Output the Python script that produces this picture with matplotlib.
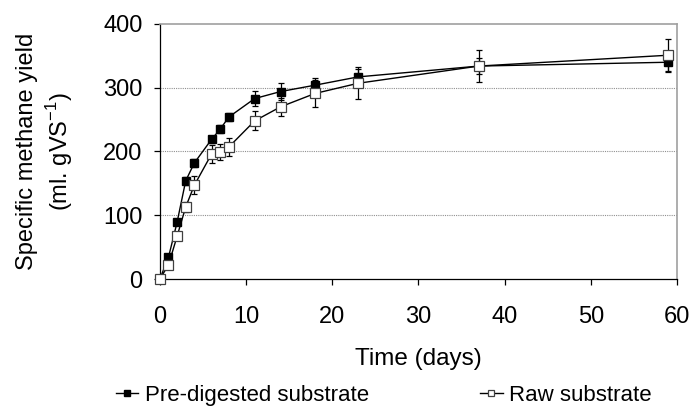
import matplotlib.pyplot as plt

plt.rcParams['font.family'] = ['Liberation Sans', 'DejaVu Sans']

# data
days = [0, 1, 2, 3, 4, 6, 7, 8, 11, 14, 18, 23, 37, 59]
pre_digested = [0, 34, 89, 154, 182, 219, 235, 254, 283, 294, 304, 317, 334, 340]
pre_err = [2, 4, 5, 6, 6, 6, 6, 6, 12, 14, 11, 12, 12, 15]
raw = [0, 22, 67, 113, 147, 196, 199, 207, 248, 270, 291, 307, 334, 351]
raw_err = [2, 4, 6, 8, 14, 14, 13, 14, 15, 14, 21, 25, 25, 25]

fig = plt.figure(figsize=(6.95, 4.15), dpi=100)
ax = fig.add_axes([0.230, 0.3277, 0.744, 0.6145])

for y in [100, 200, 300]:
    ax.axhline(y, color='#909090', lw=0.8, ls=(0, (1, 1)), zorder=0)

ax.errorbar(days, raw, yerr=raw_err, fmt='none', ecolor='black',
            elinewidth=0.9, capsize=2.5, capthick=0.9, clip_on=False, zorder=2)
ax.errorbar(days, pre_digested, yerr=pre_err, fmt='none', ecolor='black',
            elinewidth=0.9, capsize=2.5, capthick=0.9, clip_on=False, zorder=2)

l1, = ax.plot(days, pre_digested, color='black', lw=1, marker='s', ms=5.3,
              mfc='black', mec='black', clip_on=False, zorder=3,
              label='Pre-digested substrate')
l2, = ax.plot(days, raw, color='black', lw=1, marker='s', ms=6.5,
              mfc='white', mec='#404040', mew=0.9, clip_on=False, zorder=4,
              label='Raw substrate')

ax.set_xlim(0, 60)
ax.set_ylim(0, 400)
ax.set_xticks(range(0, 61, 10))
ax.set_yticks(range(0, 401, 100))
ax.tick_params(labelsize=17, direction='out', length=4.5, width=0.9)
ax.tick_params(axis='x', pad=15)
ax.tick_params(axis='y', pad=8)

for s in ['top', 'right']:
    ax.spines[s].set_color('#a0a0a0')
    ax.spines[s].set_linewidth(1.2)
for s in ['left', 'bottom']:
    ax.spines[s].set_color('black')
    ax.spines[s].set_linewidth(0.9)

ax.set_xlabel('Time (days)', fontsize=17.5, labelpad=14)
ax.set_ylabel('Specific methane yield\n(ml. gVS$^{\\mathregular{-1}}$)',
              fontsize=17, labelpad=20, linespacing=1.25)

fig.legend(handles=[l1, l2], loc='center', bbox_to_anchor=(384 / 695, 0.048),
           ncol=2, frameon=False, fontsize=16, handlelength=1.0,
           handletextpad=0.3, columnspacing=5, markerscale=0.75,
           borderpad=0, borderaxespad=0)

fig.savefig('out.png', dpi=100)
